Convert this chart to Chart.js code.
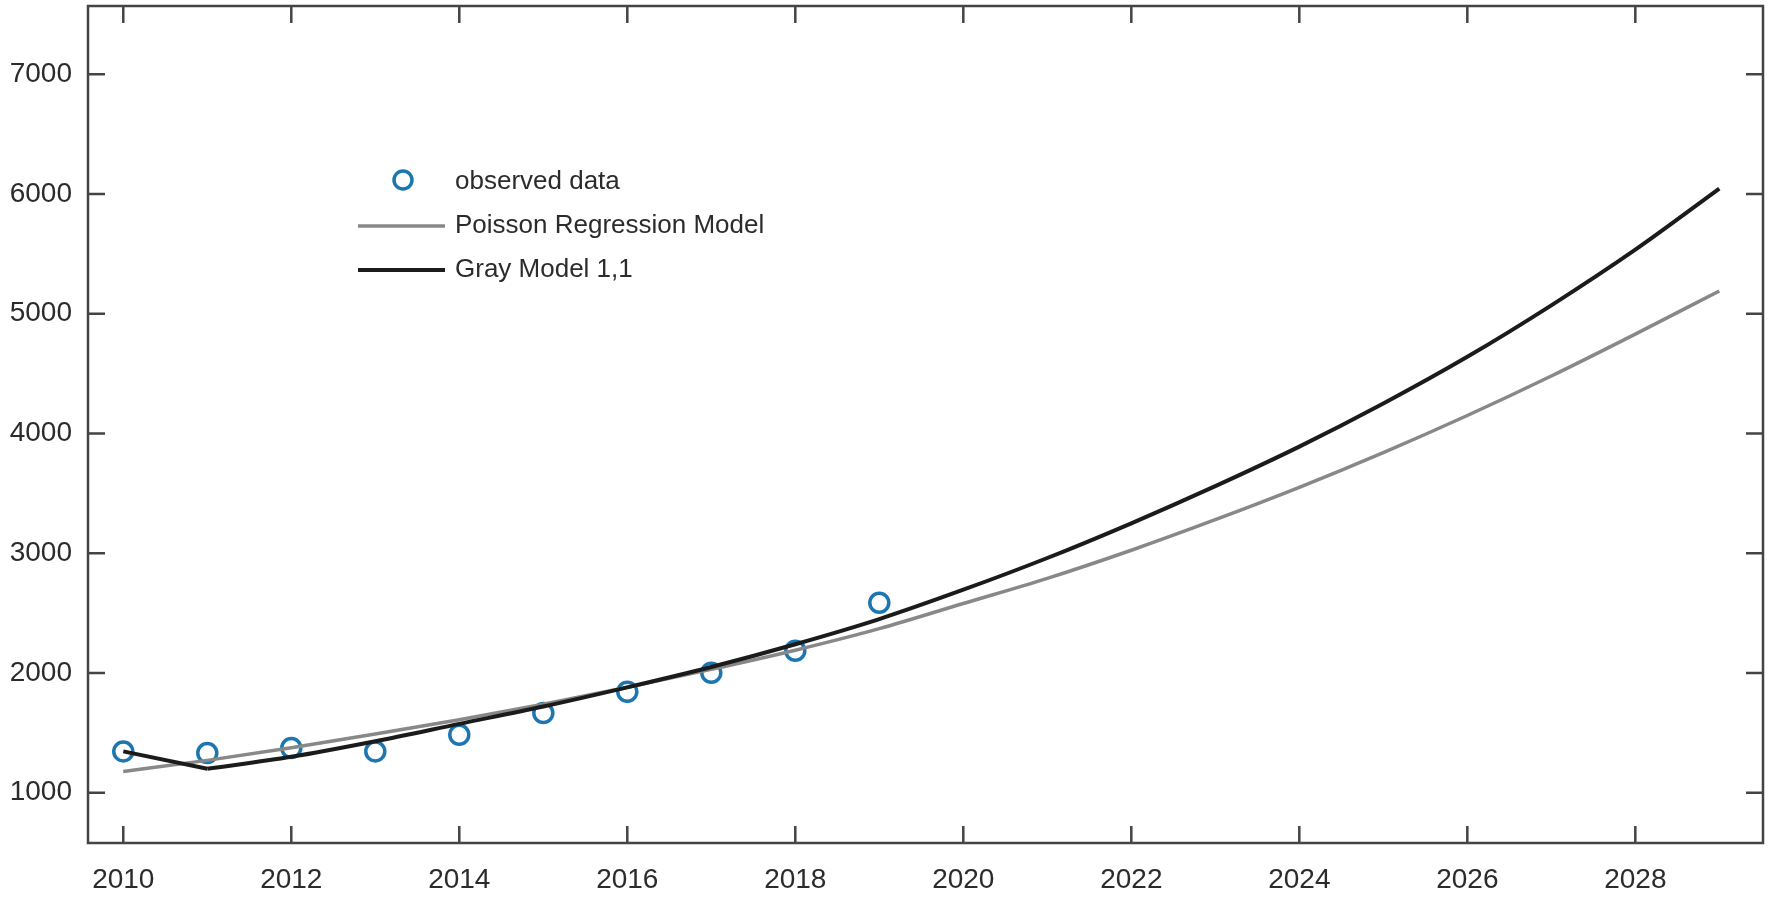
<!DOCTYPE html>
<html>
<head>
<meta charset="utf-8">
<script src="https://cdn.jsdelivr.net/npm/chart.js@4"></script>
<style>
  body { margin: 0; background: #fff; }
  canvas { display: block; }
</style>
</head>
<body>
<canvas id="forecastChart" width="1770" height="900"></canvas>
<script>
// values
const years = [2010, 2011, 2012, 2013, 2014, 2015, 2016, 2017, 2018, 2019,
               2020, 2021, 2022, 2023, 2024, 2025, 2026, 2027, 2028, 2029];
const observedYears = [2010, 2011, 2012, 2013, 2014, 2015, 2016, 2017, 2018, 2019];
const observed = [1345, 1331, 1373, 1345, 1484, 1665, 1843, 2002, 2185, 2586];
const poisson = [1178, 1270, 1375, 1490, 1610, 1740, 1880, 2030, 2190, 2370,
                 2580, 2790, 3025, 3280, 3550, 3840, 4150, 4480, 4830, 5190];
const grayModel = [1345, 1200, 1300, 1430, 1575, 1720, 1880, 2050, 2240, 2450,
                   2695, 2960, 3250, 3560, 3890, 4250, 4640, 5070, 5535, 6045];
const xTicks = [2010, 2012, 2014, 2016, 2018, 2020, 2022, 2024, 2026, 2028];
const yTicks = [1000, 2000, 3000, 4000, 5000, 6000, 7000];
const legendLabels = ['observed data', 'Poisson Regression Model', 'Gray Model 1,1'];

const pts = (xs, ys) => xs.map((x, i) => ({ x: x, y: ys[i] }));

const axisColor = '#444';
const pointBlue = '#1c76b0';
const blackLine = '#1b1b1b';
const grayLine = '#888888';
const fontFamily = '"Liberation Sans", Arial, sans-serif';

// matlab-like box with inward ticks on all four sides
const boxPlugin = {
  id: 'box',
  afterDatasetsDraw(chart) {
    const { ctx, chartArea: a, scales } = chart;
    const len = 17;
    ctx.save();
    ctx.strokeStyle = axisColor;
    ctx.lineWidth = 2.5;
    ctx.strokeRect(a.left, a.top, a.right - a.left, a.bottom - a.top);
    ctx.beginPath();
    xTicks.forEach(v => {
      const px = scales.x.getPixelForValue(v);
      ctx.moveTo(px, a.bottom); ctx.lineTo(px, a.bottom - len);
      ctx.moveTo(px, a.top); ctx.lineTo(px, a.top + len);
    });
    yTicks.forEach(v => {
      const py = scales.y.getPixelForValue(v);
      ctx.moveTo(a.left, py); ctx.lineTo(a.left + len, py);
      ctx.moveTo(a.right, py); ctx.lineTo(a.right - len, py);
    });
    ctx.stroke();
    ctx.restore();
  }
};

// legend sits inside the plot, upper left
const legendPlugin = {
  id: 'innerLegend',
  afterDraw(chart) {
    const ctx = chart.ctx;
    const rows = [182, 226, 270];
    ctx.save();
    ctx.font = '26px ' + fontFamily;
    ctx.fillStyle = '#2b2b2b';
    ctx.textBaseline = 'middle';
    ctx.textAlign = 'left';
    // observed marker
    ctx.beginPath();
    ctx.arc(403, rows[0] - 2, 9, 0, Math.PI * 2);
    ctx.strokeStyle = pointBlue;
    ctx.lineWidth = 3.5;
    ctx.stroke();
    // model lines
    [[grayLine, 3.5], [blackLine, 4]].forEach(([c, w], k) => {
      ctx.beginPath();
      ctx.moveTo(358, rows[k + 1]);
      ctx.lineTo(445, rows[k + 1]);
      ctx.strokeStyle = c;
      ctx.lineWidth = w;
      ctx.stroke();
    });
    legendLabels.forEach((t, i) => ctx.fillText(t, 455, rows[i]));
    ctx.restore();
  }
};

const ctx = document.getElementById('forecastChart').getContext('2d');

const chart = new Chart(ctx, {
  type: 'scatter',
  data: {
    datasets: [
      {
        // first GM(1,1) step is a straight drop
        label: legendLabels[2],
        data: pts(years.slice(0, 2), grayModel.slice(0, 2)),
        showLine: true,
        borderColor: blackLine,
        borderWidth: 4,
        pointRadius: 0,
        tension: 0
      },
      {
        label: legendLabels[2],
        data: pts(years.slice(1), grayModel.slice(1)),
        showLine: true,
        borderColor: blackLine,
        borderWidth: 4,
        pointRadius: 0,
        cubicInterpolationMode: 'monotone'
      },
      {
        label: legendLabels[1],
        data: pts(years, poisson),
        showLine: true,
        borderColor: grayLine,
        borderWidth: 3.5,
        pointRadius: 0,
        cubicInterpolationMode: 'monotone'
      },
      {
        label: legendLabels[0],
        data: pts(observedYears, observed),
        showLine: false,
        borderColor: pointBlue,
        backgroundColor: 'rgba(0,0,0,0)',
        borderWidth: 3.5,
        pointRadius: 9.5
      }
    ]
  },
  options: {
    responsive: false,
    animation: false,
    layout: { autoPadding: false, padding: { left: 0, right: 7, top: 6, bottom: 0 } },
    plugins: {
      legend: { display: false },
      tooltip: { enabled: false }
    },
    scales: {
      x: {
        type: 'linear',
        min: 2009.58,
        max: 2029.52,
        afterBuildTicks: s => { s.ticks = xTicks.map(v => ({ value: v })); },
        afterFit: s => { s.height = 57; s.paddingLeft = 0; s.paddingRight = 0; },
        grid: { display: false, drawTicks: false },
        border: { display: false },
        ticks: {
          color: '#2b2b2b',
          padding: 20,
          maxRotation: 0,
          font: { family: fontFamily, size: 28 },
          callback: v => String(v)
        }
      },
      y: {
        type: 'linear',
        min: 580,
        max: 7570,
        afterBuildTicks: s => { s.ticks = yTicks.map(v => ({ value: v })); },
        afterFit: s => { s.width = 88; s.paddingTop = 0; s.paddingBottom = 0; },
        grid: { display: false, drawTicks: false },
        border: { display: false },
        ticks: {
          color: '#2b2b2b',
          padding: 16,
          font: { family: fontFamily, size: 28 },
          callback: v => String(v)
        }
      }
    }
  },
  plugins: [boxPlugin, legendPlugin]
});
</script>
</body>
</html>
